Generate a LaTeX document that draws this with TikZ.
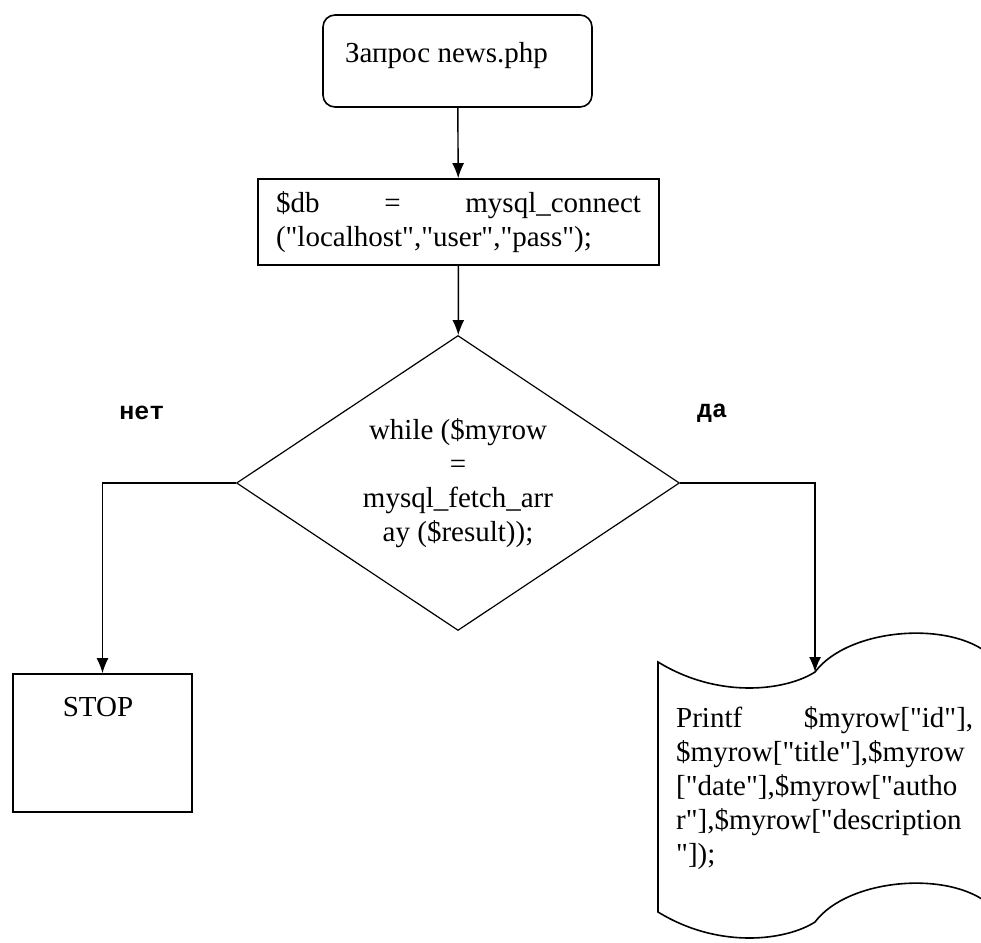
\documentclass[tikz,border=0pt]{standalone}
\usepackage{fontspec}
\setmainfont{Liberation Serif}[Ligatures=TeXOff]
\newfontfamily\yesnofont{Liberation Mono}
\usetikzlibrary{shapes.geometric,arrows.meta}
\tikzset{
	blk/.style={draw,line width=1.6pt,inner sep=0pt},
	arr/.style={line width=1.4pt,-{Latex[length=15pt,width=12pt]}},
	yesno/.style={font=\yesnofont\bfseries\fontsize{25}{25}\selectfont,anchor=base}
}
\begin{document}
\begin{tikzpicture}[x=1pt,y=-1pt,font=\fontsize{29}{34}\selectfont]
	\useasboundingbox (0,0) rectangle (981,942);
	\node (req) [blk,rounded corners=12pt,minimum width=269pt,minimum height=92pt] at (457.5,61) {};
	\node (reqtxt) [anchor=base west,inner sep=0pt] at (345,63) {Запрос news.php};
	\node (db) [blk,inner xsep=18pt,text width=365pt,align=left,minimum height=86pt] at (458.5,222) {\$db\hfill=\hfill mysql\_connect\\("localhost","user","pass");};
	\node (dec) [diamond,draw,line width=1.2pt,aspect=1.5,inner sep=0pt,minimum width=443pt,minimum height=295pt,align=center] at (458,483) {while (\$myrow\\=\\mysql\_fetch\_arr\\ay (\$result));};
	\node (stop) [blk,minimum width=179pt,minimum height=138pt] at (102.5,743) {};
	\node (stoptxt) [anchor=base] at (98,716) {STOP};
	\coordinate (docin) at (815,672);
	\draw [line width=1.6pt] (658,662) .. controls (720,700) and (787,690) .. (docin) .. controls (848,628) and (950,620) .. (990,655) -- (990,905) .. controls (950,870) and (848,878) .. (815,922) .. controls (787,940) and (720,950) .. (658,912) -- cycle;
	\node (doctxt) [anchor=north west,inner sep=0pt,text width=297pt,align=left] at (676,706) {Printf\hfill\$myrow["id"],\\\$myrow["title"],\$myrow\\{}["date"],\$myrow["autho\\r"],\$myrow["description\\"]);};
	\node (no) [yesno] at (142,419) {нет};
	\node (yes) [yesno] at (712,417) {да};
	\draw [arr] (req) -- (db);
	\draw [arr] (db) -- (dec);
	\draw [arr] (dec.west) -| (stop);
	\draw [arr] (dec.east) -| (docin);
\end{tikzpicture}
\end{document}
